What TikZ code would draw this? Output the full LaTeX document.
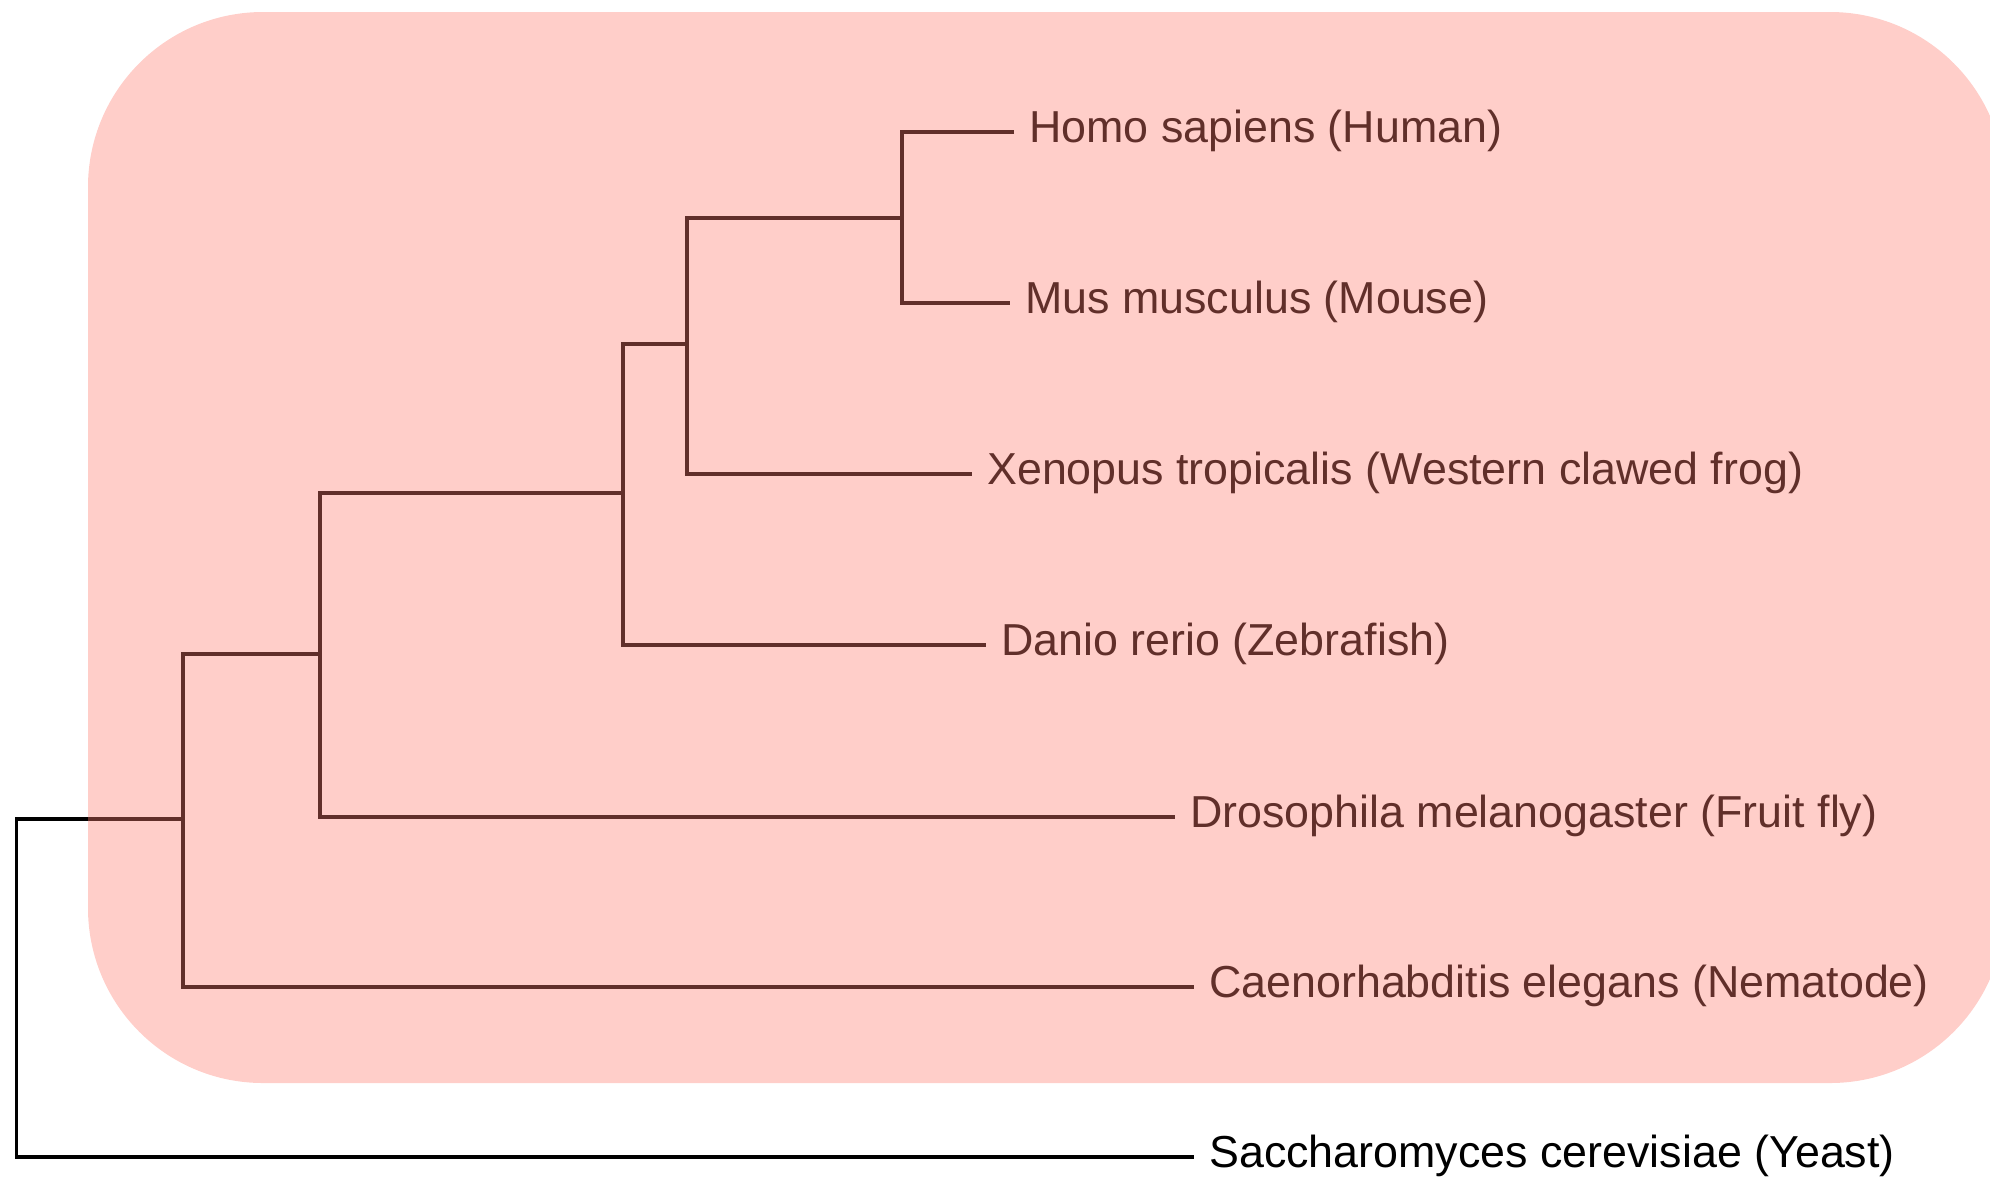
\documentclass[tikz,border=0pt]{standalone}
\usepackage{fontspec}
\setmainfont{Liberation Sans}
\usepackage{tikz}
\usepackage{xcolor}
\definecolor{cladepink}{RGB}{255,126,113}

\begin{document}
\begin{tikzpicture}[x=0.25pt, y=-0.25pt,
    branch/.style={line width=0.8pt, black},
    taxon/.style={anchor=west, inner xsep=3.6pt, inner ysep=0pt,
        text height=0.52em, text depth=0pt, font=\fontsize{11.2}{13}\selectfont},
    cladebox/.style={fill=cladepink, fill opacity=0.38}]

\useasboundingbox (0,0) rectangle (1990,1181);

% =====================
% Leaves
% =====================
\node[taxon] (human)   at (1014,132)  {Homo sapiens (Human)};
\node[taxon] (mouse)   at (1010,303)  {Mus musculus (Mouse)};
\node[taxon] (xenopus) at (972,474)   {Xenopus tropicalis (Western clawed frog)};
\node[taxon] (danio)   at (986,645)   {Danio rerio (Zebrafish)};
\node[taxon] (fly)     at (1175,817)  {Drosophila melanogaster (Fruit fly)};
\node[taxon] (worm)    at (1194,987)  {Caenorhabditis elegans (Nematode)};
\node[taxon] (yeast)   at (1194,1157) {Saccharomyces cerevisiae (Yeast)};

% =====================
% Inner nodes
% =====================
\coordinate (mammals)     at (902,218);
\coordinate (tetrapods)   at (687,344);
\coordinate (vertebrates) at (623,493);
\coordinate (bilateria)   at (320,654);
\coordinate (animals)     at (183,819);
\coordinate (root)        at (16.5,819);

% =====================
% Branches
% =====================
\draw[branch] (human.west) -| (mammals) |- (mouse.west);
\draw[branch] (mammals) -| (tetrapods) |- (xenopus.west);
\draw[branch] (tetrapods) -| (vertebrates) |- (danio.west);
\draw[branch] (vertebrates) -| (bilateria) |- (fly.west);
\draw[branch] (bilateria) -| (animals) |- (worm.west);
\draw[branch] (animals) -- (root) |- (yeast.west);

% =====================
% Animal clade (drawn on top)
% =====================
\fill[cladebox, rounded corners=43.75pt] (88,12) rectangle (2005,1083);

\end{tikzpicture}
\end{document}
